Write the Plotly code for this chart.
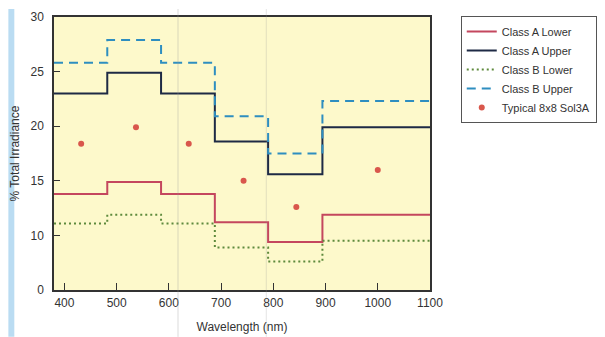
import plotly.graph_objects as go

band_edges = [380, 482, 585, 688, 790, 894, 1100]
class_a_lower = [13.8, 14.9, 13.8, 11.2, 9.4, 11.9]
class_a_upper = [23.0, 24.9, 23.0, 18.6, 15.6, 19.9]
class_b_lower = [11.1, 11.9, 11.1, 8.9, 7.6, 9.5]
class_b_upper = [25.8, 27.9, 25.8, 20.9, 17.5, 22.3]
typical_x = [432, 537, 638, 743, 844, 1000]
typical_y = [18.4, 19.9, 18.4, 15.0, 12.6, 16.0]

x_ticks = [400, 500, 600, 700, 800, 900, 1000, 1100]
y_tickvals = [5, 10, 15, 20, 25, 30]
y_ticktext = ["0", "10", "15", "20", "25", "30"]

FONT = "Liberation Sans Narrow, Arial Narrow, Liberation Sans, Arial, sans-serif"

def step(vals):
    return vals + [vals[-1]]

fig = go.Figure()
fig.add_trace(go.Scatter(x=band_edges, y=step(class_a_lower), mode="lines", line_shape="hv",
                         name="Class A Lower", line=dict(color="#C4475E", width=2)))
fig.add_trace(go.Scatter(x=band_edges, y=step(class_a_upper), mode="lines", line_shape="hv",
                         name="Class A Upper", line=dict(color="#1E2A45", width=2)))
fig.add_trace(go.Scatter(x=band_edges, y=step(class_b_lower), mode="lines", line_shape="hv",
                         name="Class B Lower", line=dict(color="#5E8A3C", width=2, dash="2px,3px")))
fig.add_trace(go.Scatter(x=band_edges, y=step(class_b_upper), mode="lines", line_shape="hv",
                         name="Class B Upper", line=dict(color="#2E8EC0", width=2, dash="9px,6px")))
fig.add_trace(go.Scatter(x=typical_x, y=typical_y, mode="markers",
                         name="Typical 8x8 Sol3A", marker=dict(color="#D9574C", size=6)))

# page body has an 8px margin, so the figure is sized to fit inside the window
W, H = 597, 329
L, R, T, B = 46, 172, 8, 47
pw = W - L - R
ph = H - T - B
fig.update_layout(
    width=W, height=H,
    margin=dict(l=L, r=R, t=T, b=B, pad=0),
    paper_bgcolor="white",
    plot_bgcolor="#FDF9CB",
    font=dict(family=FONT, size=12, color="#333333"),
    showlegend=True,
    legend=dict(x=(456 - L) / pw, y=1.0 + 1 / ph, xanchor="left", yanchor="top",
                bordercolor="#555555", borderwidth=1, bgcolor="white",
                font=dict(family=FONT, size=11, color="#333333"),
                tracegroupgap=0, itemwidth=30),
    xaxis=dict(range=[380, 1100], tickvals=x_ticks, ticks="inside", ticklen=7,
               tickcolor="#333333", showgrid=False, zeroline=False, automargin=False,
               showline=True, linecolor="#333333", linewidth=1.5, mirror=True,
               ticklabelstandoff=1, ticklabeloverflow="allow",
               title=dict(text="Wavelength (nm)", standoff=13, font=dict(size=12)),
               tickfont=dict(size=12)),
    yaxis=dict(range=[5, 30], tickvals=y_tickvals, ticktext=y_ticktext, ticks="inside",
               ticklen=6, tickcolor="#333333", showgrid=False, zeroline=False, automargin=False,
               showline=True, linecolor="#333333", linewidth=1.5, mirror=True,
               ticklabelstandoff=6, ticklabeloverflow="allow",
               title=dict(text="% Total Irradiance", standoff=12, font=dict(size=12)),
               tickfont=dict(size=12)),
    shapes=[
        dict(type="rect", xref="paper", yref="paper", x0=-L / pw, x1=(6 - L) / pw,
             y0=-B / ph, y1=1 + T / ph,
             fillcolor="#BADCF2", line=dict(width=0), layer="below"),
        dict(type="line", xref="paper", yref="paper", x0=(171 - L) / pw, x1=(171 - L) / pw,
             y0=-B / ph, y1=1 + T / ph,
             line=dict(color="rgba(150,150,150,0.35)", width=1)),
        dict(type="line", xref="paper", yref="paper", x0=(260 - L) / pw, x1=(260 - L) / pw,
             y0=-B / ph, y1=1 + T / ph,
             line=dict(color="rgba(150,150,150,0.25)", width=1)),
    ],
)

fig.write_html("out.html")
